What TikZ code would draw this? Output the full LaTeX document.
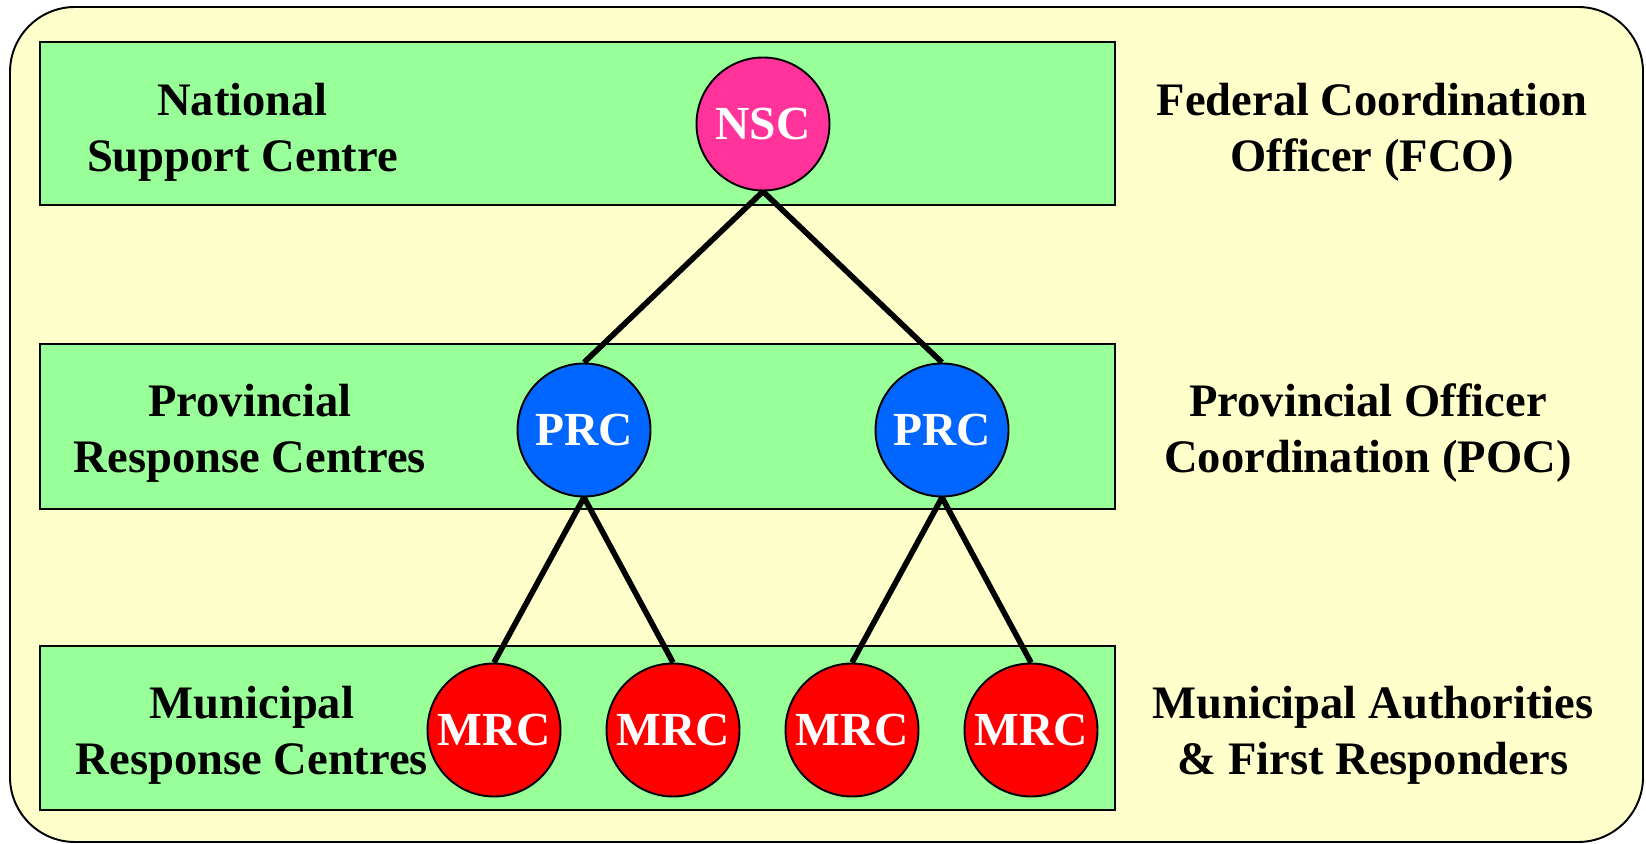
\documentclass[tikz,border=0pt]{standalone}
\usepackage{fontspec}
\setmainfont{Liberation Serif}
\definecolor{panelyellow}{HTML}{FFFFCC}
\definecolor{levelgreen}{HTML}{99FF99}
\definecolor{nscpink}{HTML}{FF3399}
\definecolor{prcblue}{HTML}{0066FF}
\definecolor{mrcred}{HTML}{FF0000}

\begin{document}
\begin{tikzpicture}[
   level/.style = {draw, line width=1.1pt, fill=levelgreen},
  centre/.style = {circle, draw, line width=1.1pt, minimum size=2.66cm, inner sep=0pt,
                   text=white, font=\bfseries\fontsize{27}{33}\selectfont},
   label/.style = {align=center, font=\bfseries\fontsize{26.5}{32}\selectfont},
    link/.style = {line width=3.2pt}
                        ]
\useasboundingbox (0,0) rectangle (32.92,16.86);
\fill[white] (0,0) rectangle (32.92,16.86);
% panel and levels
    \draw[line width=1.1pt, fill=panelyellow, rounded corners=1.3cm] (0.2,0.02) rectangle (32.86,16.72);
    \draw[level] (0.8,12.76) rectangle (22.3,16.02);
    \draw[level] (0.8,6.68) rectangle (22.3,9.98);
    \draw[level] (0.8,0.66) rectangle (22.3,3.94);
% centres
    \node[centre, fill=nscpink] (nsc) at (15.26,14.38) {NSC};
    \node[centre, fill=prcblue] (prcA) at (11.68,8.26) {PRC};
    \node[centre, fill=prcblue] (prcB) at (18.84,8.26) {PRC};
    \node[centre, fill=mrcred] (mrcA) at (9.88,2.26) {MRC};
    \node[centre, fill=mrcred] (mrcB) at (13.46,2.26) {MRC};
    \node[centre, fill=mrcred] (mrcC) at (17.04,2.26) {MRC};
    \node[centre, fill=mrcred] (mrcD) at (20.62,2.26) {MRC};
% links
    \draw[link] (nsc.south) -- (prcA.north);
    \draw[link] (nsc.south) -- (prcB.north);
    \draw[link] (prcA.south) -- (mrcA.north);
    \draw[link] (prcA.south) -- (mrcB.north);
    \draw[link] (prcB.south) -- (mrcC.north);
    \draw[link] (prcB.south) -- (mrcD.north);
% level names
    \node[label] (natname) at (4.85,14.21) {National\\Support Centre};
    \node[label] (provname) at (5.0,8.2) {Provincial\\Response Centres};
    \node[label] (muniname) at (5.04,2.16) {Municipal\\Response Centres};
% coordinators
    \node[label] (fco) at (27.44,14.22) {Federal Coordination\\Officer (FCO)};
    \node[label] (poc) at (27.36,8.2) {Provincial Officer\\Coordination (POC)};
    \node[label] (first) at (27.46,2.16) {Municipal Authorities\\\& First Responders};
\end{tikzpicture}
\end{document}
